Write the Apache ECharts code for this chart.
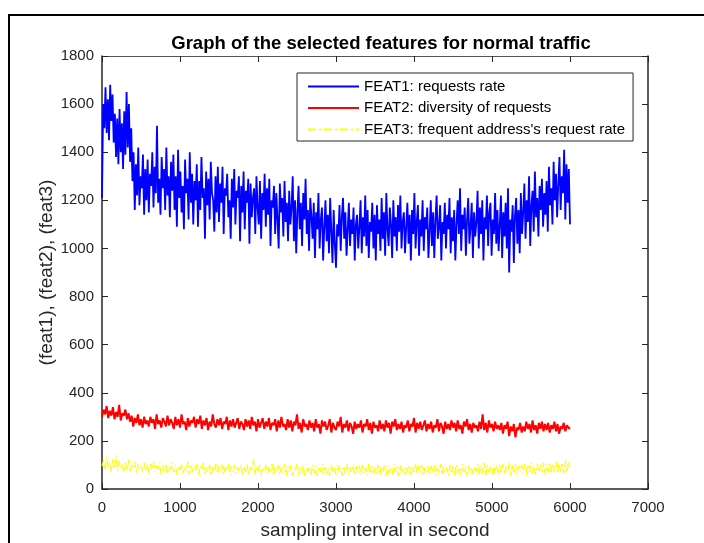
<!DOCTYPE html>
<html>
<head>
<meta charset="utf-8">
<title>Graph of the selected features for normal traffic</title>
<script src="https://cdn.jsdelivr.net/npm/echarts@6.0.0/dist/echarts.min.js"></script>
<style>
  html, body { margin: 0; padding: 0; background: #fff; }
  #chart { width: 704px; height: 543px; }
</style>
</head>
<body>
<div id="chart"></div>
<script>
// sampling step (seconds) between the values
var feat1Step = 15;
var feat23Step = 20;

// FEAT1: requests rate (one row = 300 s)
var feat1 = [
  1210, 1600, 1500, 1670, 1480, 1620, 1450, 1680, 1530, 1640, 1440, 1560, 1380, 1540, 1350, 1580, 1400, 1520, 1330, 1570,
  1390, 1650, 1420, 1600, 1360, 1500, 1280, 1400, 1160, 1350, 1220, 1420, 1180, 1300, 1250, 1390, 1140, 1330, 1200, 1370,
  1150, 1310, 1260, 1400, 1170, 1340, 1230, 1510, 1190, 1290, 1140, 1380, 1250, 1330, 1160, 1420, 1220, 1300, 1130, 1360,
  1240, 1390, 1160, 1300, 1090, 1410, 1210, 1320, 1150, 1260, 1080, 1370, 1230, 1290, 1120, 1400, 1190, 1310, 1100, 1280,
  1200, 1350, 1090, 1280, 1160, 1380, 1210, 1250, 1040, 1320, 1180, 1290, 1120, 1360, 1230, 1200, 1070, 1300, 1150, 1340,
  1110, 1270, 1190, 1340, 1060, 1250, 1220, 1310, 1130, 1200, 1040, 1290, 1170, 1330, 1100, 1240, 1210, 1300, 1030, 1260,
  1150, 1320, 1080, 1240, 1190, 1290, 1020, 1270, 1130, 1210, 1250, 1060, 1300, 1170, 1100, 1280, 1040, 1230, 1160, 1310,
  1090, 1250, 1140, 1290, 1010, 1200, 1170, 1260, 1060, 1230, 1120, 1000, 1270, 1150, 1210, 1050, 1280, 1110, 1190, 1030,
  1240, 1100, 1170, 1300, 1030, 1200, 980, 1150, 1260, 1080, 1190, 1010, 1230, 1120, 1290, 1060, 1160, 990, 1210, 1130,
  1040, 1190, 960, 1150, 1080, 1230, 1000, 1120, 1170, 950, 1090, 1200, 1030, 1140, 980, 1210, 1070, 940, 1160, 1020,
  920, 1100, 1050, 1180, 990, 1130, 1210, 1040, 1150, 970, 1080, 1190, 1010, 1120, 1060, 1170, 950, 1100, 1140, 1000,
  1090, 1200, 980, 1130, 1050, 1220, 1010, 1160, 960, 1110, 1070, 1190, 1000, 1140, 950, 1180, 1060, 1120, 990, 1210,
  1040, 1150, 970, 1230, 1080, 1010, 1170, 1100, 960, 1200, 1050, 1130, 990, 1180, 1070, 1220, 1000, 1110, 1150, 980,
  1090, 1190, 1020, 1140, 950, 1160, 1060, 1230, 1000, 1110, 1180, 970, 1120, 1050, 1200, 990, 1130, 1080, 1170, 960,
  1070, 1200, 1010, 1150, 960, 1120, 1220, 1040, 1090, 1180, 950, 1110, 1060, 1190, 1000, 1140, 1080, 1210, 980, 1130,
  1030, 1160, 950, 1100, 1200, 1060, 1250, 990, 1140, 1080, 1170, 970, 1120, 1210, 1020, 1090, 1190, 960, 1150, 1050,
  1110, 1240, 1000, 1170, 1060, 1200, 950, 1130, 1080, 1220, 1010, 1150, 1190, 970, 1120, 1060, 1230, 1020, 1160, 990,
  1100, 1220, 960, 1150, 1050, 1190, 1000, 1250, 900, 1120, 1070, 1180, 940, 1140, 1210, 1020, 1160, 980, 1230, 1060,
  1150, 1270, 1040, 1200, 1110, 1300, 1010, 1180, 1240, 1070, 1320, 1130, 1210, 1050, 1260, 1160, 1290, 1090, 1230, 1140,
  1280, 1070, 1340, 1180, 1250, 1100, 1360, 1200, 1310, 1130, 1270, 1380, 1160, 1300, 1230, 1410, 1120, 1350, 1190, 1330,
  1100
];

// FEAT2: diversity of requests (one row = 300 s)
var feat2 = [
  300, 330, 310, 345, 295, 325, 305, 340, 290, 320, 300, 350, 285, 315, 305,
  330, 290, 315, 280, 305, 260, 295, 275, 310, 265, 290, 255, 300, 270, 285,
  260, 300, 275, 290, 250, 310, 270, 285, 255, 295, 280, 260, 305, 265, 290,
  275, 250, 300, 265, 290, 255, 310, 270, 280, 245, 295, 260, 285, 275, 300,
  255, 290, 270, 305, 250, 285, 265, 295, 245, 280, 260, 310, 270, 255, 290,
  265, 295, 250, 280, 270, 300, 245, 285, 260, 290, 255, 275, 295, 250, 280,
  270, 245, 290, 260, 285, 250, 300, 265, 280, 240, 290, 255, 275, 295, 250,
  280, 260, 295, 245, 275, 265, 290, 240, 285, 255, 300, 260, 270, 245, 290,
  255, 285, 240, 280, 265, 310, 250, 275, 235, 290, 260, 270, 245, 285, 255,
  275, 240, 290, 255, 270, 230, 285, 260, 280, 245, 265, 290, 235, 275, 255,
  245, 280, 260, 300, 235, 270, 255, 285, 240, 275, 260, 230, 280, 250, 270,
  255, 285, 235, 270, 260, 290, 245, 275, 230, 280, 255, 265, 240, 285, 250,
  270, 240, 285, 255, 275, 230, 280, 260, 290, 245, 270, 250, 280, 235, 265,
  255, 285, 240, 270, 260, 295, 235, 275, 250, 280, 245, 265, 285, 240, 270,
  250, 280, 235, 265, 255, 290, 240, 275, 260, 230, 280, 250, 270, 245, 285,
  255, 275, 240, 285, 250, 265, 230, 280, 260, 290, 245, 270, 235, 275, 255,
  265, 240, 280, 250, 310, 245, 275, 235, 285, 255, 270, 240, 280, 250, 265,
  245, 275, 230, 265, 250, 280, 220, 260, 240, 270, 215, 255, 245, 275, 235,
  260, 240, 280, 250, 270, 235, 285, 245, 265, 230, 275, 250, 280, 240, 270,
  245, 275, 235, 265, 250, 280, 240, 270, 230, 260, 250, 275, 240, 265, 255,
  250
];

// FEAT3: frequent address's request rate (one row = 300 s)
var feat3 = [
  95, 120, 80, 135, 90, 110, 70, 125, 85, 140, 75, 115, 90, 105, 70,
  110, 80, 120, 70, 100, 85, 115, 65, 105, 80, 95, 70, 110, 75, 100,
  65, 105, 80, 115, 70, 95, 85, 110, 60, 100, 75, 105, 65, 95, 80,
  110, 70, 100, 60, 95, 80, 105, 65, 90, 75, 115, 60, 100, 70, 95,
  75, 105, 60, 95, 80, 110, 65, 90, 70, 100, 55, 95, 75, 105, 65,
  95, 70, 100, 60, 90, 75, 105, 55, 95, 70, 100, 65, 90, 75, 100,
  60, 95, 70, 105, 55, 90, 80, 125, 60, 95, 70, 100, 55, 90, 75,
  100, 60, 90, 70, 105, 55, 95, 75, 100, 60, 90, 65, 105, 55, 95,
  70, 100, 55, 90, 75, 105, 60, 95, 65, 100, 55, 90, 70, 95, 60,
  100, 65, 95, 55, 90, 70, 105, 60, 95, 65, 90, 55, 100, 70, 95,
  60, 100, 70, 90, 55, 95, 65, 105, 60, 90, 70, 100, 55, 95, 65,
  95, 60, 100, 65, 90, 55, 105, 70, 95, 60, 90, 65, 100, 55, 95,
  70, 100, 55, 95, 65, 90, 60, 105, 70, 95, 55, 100, 65, 90, 60,
  95, 65, 100, 55, 90, 70, 105, 60, 95, 65, 100, 55, 90, 70, 95,
  60, 95, 70, 100, 55, 90, 65, 105, 60, 95, 70, 90, 55, 100, 65,
  95, 55, 100, 65, 90, 60, 105, 70, 95, 55, 100, 65, 90, 60, 95,
  70, 105, 60, 95, 65, 110, 55, 100, 70, 95, 60, 105, 65, 100, 60,
  100, 65, 105, 60, 95, 70, 110, 55, 100, 65, 105, 60, 95, 70, 100,
  65, 105, 60, 100, 70, 110, 65, 95, 60, 105, 70, 100, 65, 110, 60,
  105, 70, 110, 65, 100, 75, 115, 65, 105, 70, 110, 65, 120, 70, 110,
  90
];

var seriesNames = [
  'FEAT1: requests rate',
  'FEAT2: diversity of requests',
  "FEAT3: frequent address's request rate"
];

// pair each value with its sampling second
function toPoints(values, step) {
  return values.map(function (v, i) { return [i * step, v]; });
}

var axisColor = '#262626';
var fontFamily = '"Liberation Sans", Arial, Helvetica, sans-serif';

// both x axes (bottom with labels, top as box edge)
function makeXAxis(pos, withLabels) {
  return {
    type: 'value',
    position: pos,
    min: 0, max: 7000, interval: 1000,
    name: withLabels ? 'sampling interval in second' : '',
    nameLocation: 'middle',
    nameGap: 32,
    nameTextStyle: { fontSize: 19, color: axisColor },
    axisLine: { show: true, onZero: false, lineStyle: { color: withLabels ? axisColor : '#555', width: withLabels ? 1.5 : 1 } },
    axisTick: { show: true, inside: true, length: 6, lineStyle: { color: axisColor } },
    axisLabel: {
      show: withLabels, fontSize: 15, color: axisColor, margin: 11,
      formatter: function (v) { return String(v); }
    },
    splitLine: { show: false }
  };
}

function makeYAxis(pos, withLabels) {
  return {
    type: 'value',
    position: pos,
    min: 0, max: 1800, interval: 200,
    name: withLabels ? '(feat1), (feat2), (feat3)' : '',
    nameLocation: 'middle',
    nameGap: 46,
    nameMoveOverlap: false,
    nameTextStyle: { fontSize: 19, color: axisColor },
    axisLine: { show: true, onZero: false, lineStyle: { color: axisColor, width: 1.5 } },
    axisTick: { show: true, inside: true, length: 6, lineStyle: { color: axisColor } },
    axisLabel: {
      show: withLabels, fontSize: 15, color: axisColor, margin: 8,
      formatter: function (v) { return String(v); }
    },
    splitLine: { show: false }
  };
}

var chart = echarts.init(document.getElementById('chart'));

var option = {
  animation: false,
  backgroundColor: '#fff',
  textStyle: { fontFamily: fontFamily },
  title: {
    text: 'Graph of the selected features for normal traffic',
    left: 376,
    textAlign: 'center',
    top: 29,
    textStyle: { fontSize: 18.5, fontWeight: 'bold', color: '#000', fontFamily: fontFamily }
  },
  legend: {
    orient: 'vertical',
    left: 297,
    top: 73,
    padding: [6, 8, 4, 10],
    itemWidth: 51,
    itemHeight: 14,
    itemGap: 6.5,
    backgroundColor: '#fff',
    borderColor: axisColor,
    borderWidth: 1,
    borderRadius: 0,
    itemStyle: { opacity: 0 },
    textStyle: { fontSize: 15, color: '#000', fontFamily: fontFamily },
    data: seriesNames
  },
  // keep the plot box fixed, do not shrink it for the axis names
  grid: { left: 102, right: 56, top: 56, bottom: 54, outerBoundsMode: 'none' },
  xAxis: [makeXAxis('bottom', true), makeXAxis('top', false)],
  yAxis: [makeYAxis('left', true), makeYAxis('right', false)],
  // outer figure frame
  graphic: [
    {
      type: 'rect',
      shape: { x: 9, y: 15, width: 800, height: 600 },
      style: { fill: 'none', stroke: '#000', lineWidth: 2 },
      silent: true
    }
  ],
  series: [
    {
      name: seriesNames[0],
      type: 'line',
      data: toPoints(feat1, feat1Step),
      showSymbol: false, symbol: 'none',
      lineStyle: { color: '#0000ff', width: 1.8 },
      itemStyle: { color: '#0000ff' }
    },
    {
      name: seriesNames[1],
      type: 'line',
      data: toPoints(feat2, feat23Step),
      showSymbol: false, symbol: 'none',
      lineStyle: { color: '#ff0000', width: 2 },
      itemStyle: { color: '#ff0000' }
    },
    {
      name: seriesNames[2],
      type: 'line',
      data: toPoints(feat3, feat23Step),
      showSymbol: false, symbol: 'none',
      lineStyle: { color: '#ffff00', width: 1.2, type: [8, 3, 2, 3] },
      itemStyle: { color: '#ffff00' }
    }
  ]
};

chart.setOption(option);
</script>
</body>
</html>
